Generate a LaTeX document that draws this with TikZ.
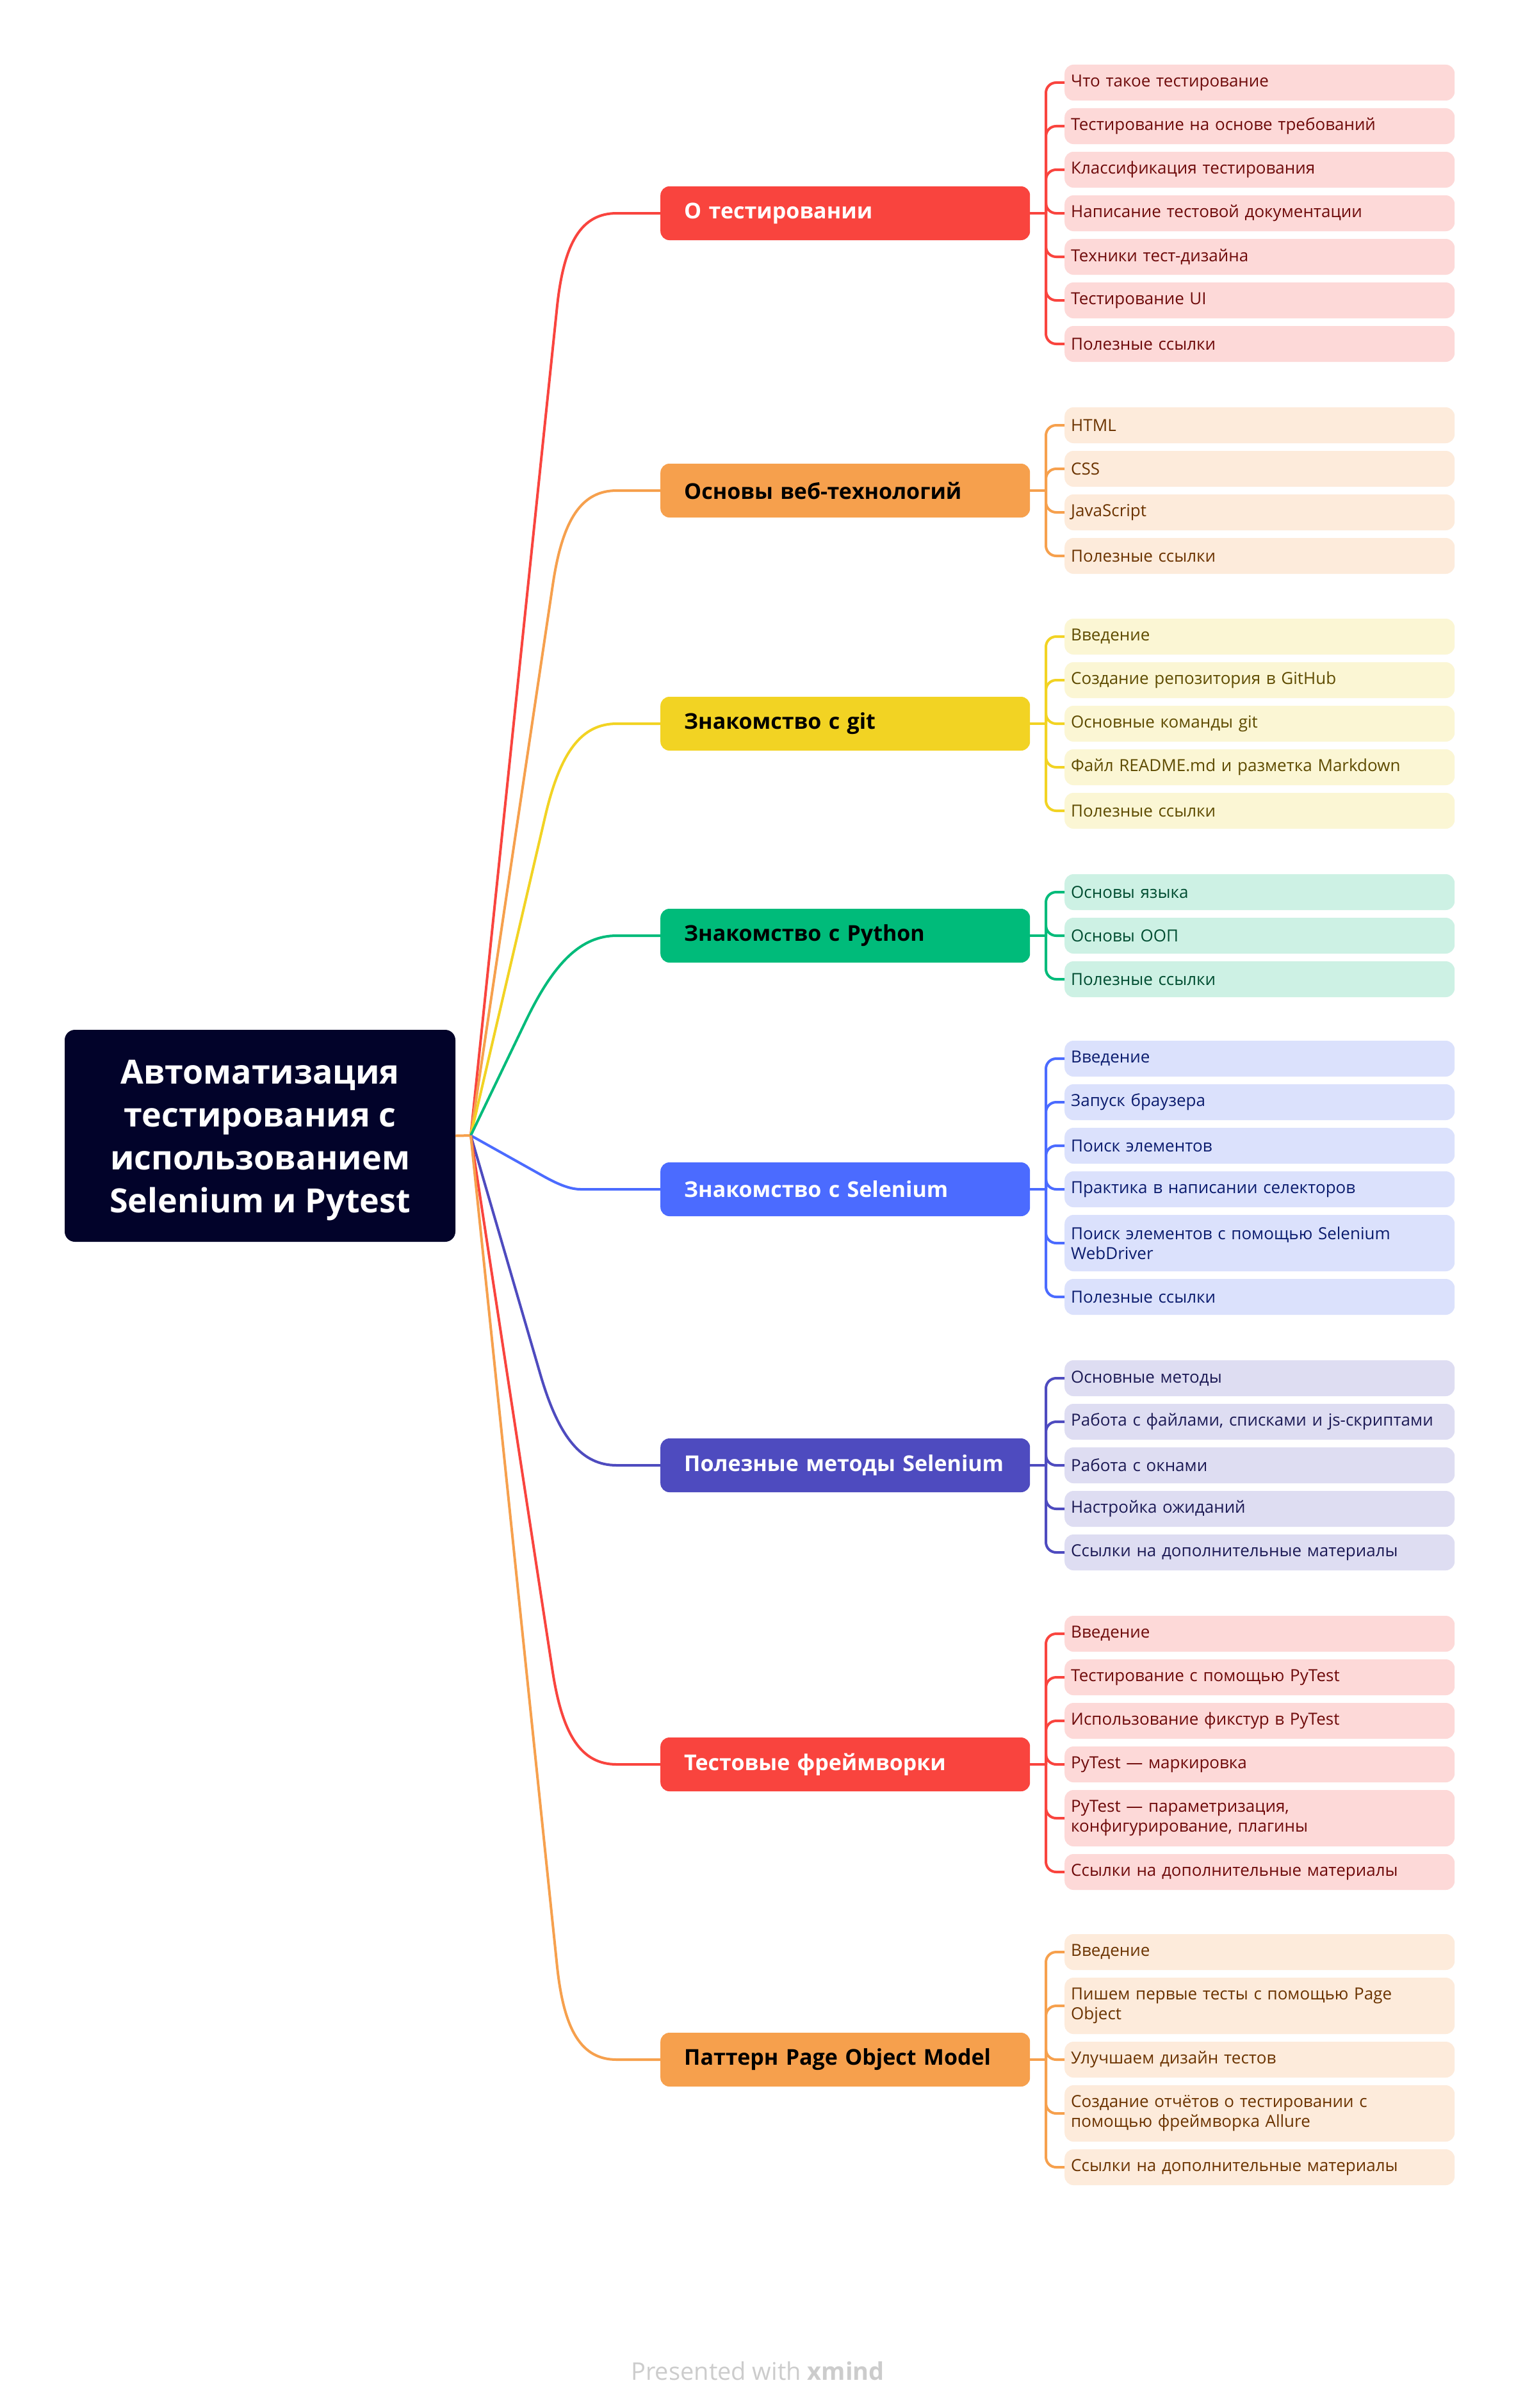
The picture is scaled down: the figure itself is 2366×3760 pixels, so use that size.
\documentclass[tikz,border=0pt]{standalone}
\usepackage{fontspec}
\setmainfont{Open Sans}
\usetikzlibrary{calc}
\definecolor{rootc}{HTML}{02032A}
\definecolor{redm}{HTML}{F9443E}\definecolor{redl}{HTML}{FDD9D8}\definecolor{redt}{HTML}{6E0A0A}
\definecolor{orgm}{HTML}{F6A04D}\definecolor{orgl}{HTML}{FDEBDB}\definecolor{orgt}{HTML}{6B3300}
\definecolor{yelm}{HTML}{F2D323}\definecolor{yell}{HTML}{FBF6D4}\definecolor{yelt}{HTML}{5E4B00}
\definecolor{grnm}{HTML}{00BB7A}\definecolor{grnl}{HTML}{CDF1E4}\definecolor{grnt}{HTML}{004D31}
\definecolor{blum}{HTML}{4B6BFF}\definecolor{blul}{HTML}{DBE1FC}\definecolor{blut}{HTML}{0B1C6E}
\definecolor{indm}{HTML}{4E4BBF}\definecolor{indl}{HTML}{DEDDF2}\definecolor{indt}{HTML}{1C1A55}
\definecolor{footc}{HTML}{CCCCCC}
\newcommand{\mbranch}[4]{%
  \coordinate (#1C) at (Xref |- #1.west);
  \coordinate (#1P) at ($(#1C)!#3pt!(J)$);
  \coordinate (#1Q) at ($(#1C)+(#4,0)$);
  \draw[branch,#2] (J) -- (#1P) .. controls ($(#1P)!0.7!(#1C)$) and ($(#1Q)!0.7!(#1C)$) .. (#1Q) -- (#1.west);
}
\begin{document}
\begin{tikzpicture}[x=1pt,y=-1pt,
  rootbox/.style={fill=rootc,rounded corners=16pt,minimum width=610pt,minimum height=331pt,inner sep=0pt},
  roottext/.style={text=white,align=center,font=\fontsize{52}{67}\selectfont\bfseries,inner sep=0pt},
  mainbox/.style={anchor=west,rounded corners=14pt,minimum height=84pt,text width=503pt,inner xsep=37pt,inner ysep=0pt,align=left,font=\fontsize{34}{40}\selectfont\bfseries},
  leafbox/.style={anchor=west,rounded corners=14pt,minimum height=56pt,text width=589pt,inner xsep=10pt,inner ysep=0pt,align=left,font=\fontsize{26}{31}\selectfont},
  leaftwo/.style={leafbox,minimum height=88pt},
  branch/.style={line width=4pt},
  sub/.style={line width=4pt,rounded corners=16pt},
  Rl/.style={fill=redl,text=redt},
  Ol/.style={fill=orgl,text=orgt},
  Yl/.style={fill=yell,text=yelt},
  Gl/.style={fill=grnl,text=grnt},
  Bl/.style={fill=blul,text=blut},
  Il/.style={fill=indl,text=indt}]
\useasboundingbox (0,0) rectangle (2366,3760);
\fill[white] (0,0) rectangle (2366,3760);
\coordinate (Xref) at (885,0);
\coordinate (J) at (735,1773);
% root
\node[rootbox] (root) at (406,1773.5) {};
\node[roottext] (roottxt) at (406,1781) {Автоматизация\\тестирования с\\использованием\\Selenium и Pytest};
% main nodes
\node[mainbox,fill=redm,text=white] (m1) at (1031,333) {О тестировании};
\node[mainbox,fill=orgm,text=black] (m2) at (1031,766) {Основы веб-технологий};
\node[mainbox,fill=yelm,text=black] (m3) at (1031,1130) {Знакомство с git};
\node[mainbox,fill=grnm,text=black] (m4) at (1031,1461) {Знакомство с Python};
\node[mainbox,fill=blum,text=white] (m5) at (1031,1857) {Знакомство с Selenium};
\node[mainbox,fill=indm,text=white] (m6) at (1031,2288) {Полезные методы Selenium};
\node[mainbox,fill=redm,text=white] (m7) at (1031,2755) {Тестовые фреймворки};
\node[mainbox,fill=orgm,text=black] (m8) at (1031,3216) {Паттерн Page Object Model};
% branches from root
\draw[branch,orgm] (root.east) -- (J);
\mbranch{m1}{redm}{148}{78}
\mbranch{m2}{orgm}{148}{78}
\mbranch{m3}{yelm}{148}{78}
\mbranch{m4}{grnm}{148}{78}
\mbranch{m5}{blum}{42}{22}
\mbranch{m6}{indm}{148}{78}
\mbranch{m7}{redm}{148}{78}
\mbranch{m8}{orgm}{148}{78}
% group 1
\node[leafbox,Rl] (a1) at (1662,129) {Что такое тестирование};
\node[leafbox,Rl] (a2) at (1662,197) {Тестирование на основе требований};
\node[leafbox,Rl] (a3) at (1662,265) {Классификация тестирования};
\node[leafbox,Rl] (a4) at (1662,333) {Написание тестовой документации};
\node[leafbox,Rl] (a5) at (1662,401) {Техники тест-дизайна};
\node[leafbox,Rl] (a6) at (1662,469) {Тестирование UI};
\node[leafbox,Rl] (a7) at (1662,537) {Полезные ссылки};
\coordinate (s1) at (1633,333);
\draw[branch,redm] (m1.east) -- (s1);
\foreach \n in {a1,a2,a3,a4,a5,a6,a7} \draw[sub,redm] (s1) |- (\n.west);
% group 2
\node[leafbox,Ol] (b1) at (1662,664) {HTML};
\node[leafbox,Ol] (b2) at (1662,732) {CSS};
\node[leafbox,Ol] (b3) at (1662,800) {JavaScript};
\node[leafbox,Ol] (b4) at (1662,868) {Полезные ссылки};
\coordinate (s2) at (1633,766);
\draw[branch,orgm] (m2.east) -- (s2);
\foreach \n in {b1,b2,b3,b4} \draw[sub,orgm] (s2) |- (\n.west);
% group 3
\node[leafbox,Yl] (c1) at (1662,994) {Введение};
\node[leafbox,Yl] (c2) at (1662,1062) {Создание репозитория в GitHub};
\node[leafbox,Yl] (c3) at (1662,1130) {Основные команды git};
\node[leafbox,Yl] (c4) at (1662,1198) {Файл README.md и разметка Markdown};
\node[leafbox,Yl] (c5) at (1662,1266) {Полезные ссылки};
\coordinate (s3) at (1633,1130);
\draw[branch,yelm] (m3.east) -- (s3);
\foreach \n in {c1,c2,c3,c4,c5} \draw[sub,yelm] (s3) |- (\n.west);
% group 4
\node[leafbox,Gl] (d1) at (1662,1393) {Основы языка};
\node[leafbox,Gl] (d2) at (1662,1461) {Основы ООП};
\node[leafbox,Gl] (d3) at (1662,1529) {Полезные ссылки};
\coordinate (s4) at (1633,1461);
\draw[branch,grnm] (m4.east) -- (s4);
\foreach \n in {d1,d2,d3} \draw[sub,grnm] (s4) |- (\n.west);
% group 5
\node[leafbox,Bl] (e1) at (1662,1653) {Введение};
\node[leafbox,Bl] (e2) at (1662,1721) {Запуск браузера};
\node[leafbox,Bl] (e3) at (1662,1789) {Поиск элементов};
\node[leafbox,Bl] (e4) at (1662,1857) {Практика в написании селекторов};
\node[leaftwo,Bl] (e5) at (1662,1941) {Поиск элементов с помощью Selenium\\WebDriver};
\node[leafbox,Bl] (e6) at (1662,2025) {Полезные ссылки};
\coordinate (s5) at (1633,1857);
\draw[branch,blum] (m5.east) -- (s5);
\foreach \n in {e1,e2,e3,e4,e5,e6} \draw[sub,blum] (s5) |- (\n.west);
% group 6
\node[leafbox,Il] (f1) at (1662,2152) {Основные методы};
\node[leafbox,Il] (f2) at (1662,2220) {Работа с файлами, списками и js-скриптами};
\node[leafbox,Il] (f3) at (1662,2288) {Работа с окнами};
\node[leafbox,Il] (f4) at (1662,2356) {Настройка ожиданий};
\node[leafbox,Il] (f5) at (1662,2424) {Ссылки на дополнительные материалы};
\coordinate (s6) at (1633,2288);
\draw[branch,indm] (m6.east) -- (s6);
\foreach \n in {f1,f2,f3,f4,f5} \draw[sub,indm] (s6) |- (\n.west);
% group 7
\node[leafbox,Rl] (g1) at (1662,2551) {Введение};
\node[leafbox,Rl] (g2) at (1662,2619) {Тестирование с помощью PyTest};
\node[leafbox,Rl] (g3) at (1662,2687) {Использование фикстур в PyTest};
\node[leafbox,Rl] (g4) at (1662,2755) {PyTest — маркировка};
\node[leaftwo,Rl] (g5) at (1662,2839) {PyTest — параметризация,\\конфигурирование, плагины};
\node[leafbox,Rl] (g6) at (1662,2923) {Ссылки на дополнительные материалы};
\coordinate (s7) at (1633,2755);
\draw[branch,redm] (m7.east) -- (s7);
\foreach \n in {g1,g2,g3,g4,g5,g6} \draw[sub,redm] (s7) |- (\n.west);
% group 8
\node[leafbox,Ol] (h1) at (1662,3048) {Введение};
\node[leaftwo,Ol] (h2) at (1662,3132) {Пишем первые тесты с помощью Page\\Object};
\node[leafbox,Ol] (h3) at (1662,3216) {Улучшаем дизайн тестов};
\node[leaftwo,Ol] (h4) at (1662,3300) {Создание отчётов о тестировании с\\помощью фреймворка Allure};
\node[leafbox,Ol] (h5) at (1662,3384) {Ссылки на дополнительные материалы};
\coordinate (s8) at (1633,3216);
\draw[branch,orgm] (m8.east) -- (s8);
\foreach \n in {h1,h2,h3,h4,h5} \draw[sub,orgm] (s8) |- (\n.west);
% footer
\node[text=footc,font=\fontsize{38}{46}\selectfont,inner sep=0pt,anchor=base] (foot) at (1183,3716) {Presented with \textbf{xmind}};
\end{tikzpicture}
\end{document}
